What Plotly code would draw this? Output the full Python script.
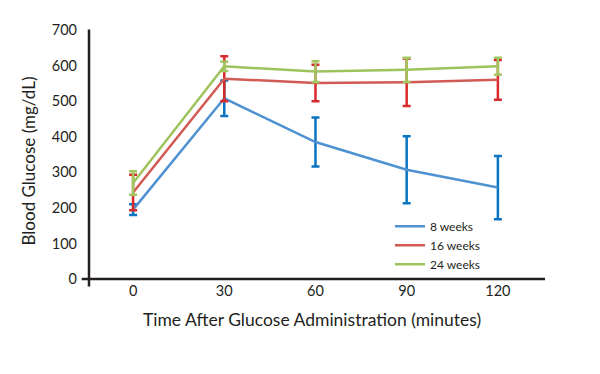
import plotly.graph_objects as go

times = [0, 30, 60, 90, 120]
series_names = ["8 weeks", "16 weeks", "24 weeks"]
glucose_8w = [195, 508, 385, 307, 257]
err_8w = [15, 50, 69, 94, 89]
glucose_16w = [243, 563, 551, 553, 560]
err_16w = [50, 63, 51, 67, 56]
glucose_24w = [270, 598, 583, 588, 598]
err_24w = [33, 13, 29, 34, 24]
y_ticks = [0, 100, 200, 300, 400, 500, 600, 700]

line_colors = ["#4f92d2", "#d25a55", "#9dc35c"]
err_colors = ["#0b74c2", "#d82a2a", "#a2c75e"]

FONT = "Lato"
TXT = "#231f20"

fig = go.Figure()
for name, vals, errs, lc, ec in zip(series_names,
                                     [glucose_8w, glucose_16w, glucose_24w],
                                     [err_8w, err_16w, err_24w],
                                     line_colors, err_colors):
    fig.add_trace(go.Scatter(
        x=times, y=vals, name=name, mode="lines",
        line=dict(color=lc, width=2.5),
        error_y=dict(type="data", array=errs, visible=True,
                     color=ec, thickness=2.5, width=4),
    ))

# page body has an 8px default margin: compensate
fig.update_layout(
    width=592, height=366,
    margin=dict(l=81, r=55, t=22, b=95),
    plot_bgcolor="white", paper_bgcolor="white",
    font=dict(family=FONT, color=TXT, size=14),
    showlegend=True,
    legend=dict(x=0.66, y=0.27, xanchor="left", yanchor="top",
                bgcolor="rgba(0,0,0,0)", font=dict(size=12, family=FONT, color=TXT),
                itemwidth=30, tracegroupgap=0),
    xaxis=dict(range=[-14.5, 135.5], tickvals=times, ticks="",
               showgrid=False, zeroline=False, showline=False,
               tickfont=dict(size=14.5), ticklabelstandoff=1),
    yaxis=dict(range=[0, 700], tickvals=y_ticks, ticks="",
               showgrid=False, zeroline=False, showline=False,
               tickfont=dict(size=14.5), ticklabelstandoff=11),
    shapes=[
        dict(type="line", xref="paper", yref="paper", x0=-0.016, x1=1, y0=0, y1=0,
             line=dict(color=TXT, width=2.5)),
        dict(type="line", xref="paper", yref="paper", x0=0, x1=0, y0=-0.03, y1=1.002,
             line=dict(color=TXT, width=2.5)),
    ],
    annotations=[
        dict(text="Time After Glucose Administration (minutes)", xref="paper", yref="paper",
             x=(312 - 89) / 456, y=-(320 - 279) / 250, xanchor="center", yanchor="middle",
             showarrow=False, font=dict(size=17.5, family=FONT, color=TXT)),
        dict(text="Blood Glucose (mg/dL)", xref="paper", yref="paper",
             x=-(89 - 28) / 456, y=(279 - 161) / 250, xanchor="center", yanchor="middle",
             textangle=-90, showarrow=False, font=dict(size=17, family=FONT, color=TXT)),
    ],
)

fig.write_html("out.html")
